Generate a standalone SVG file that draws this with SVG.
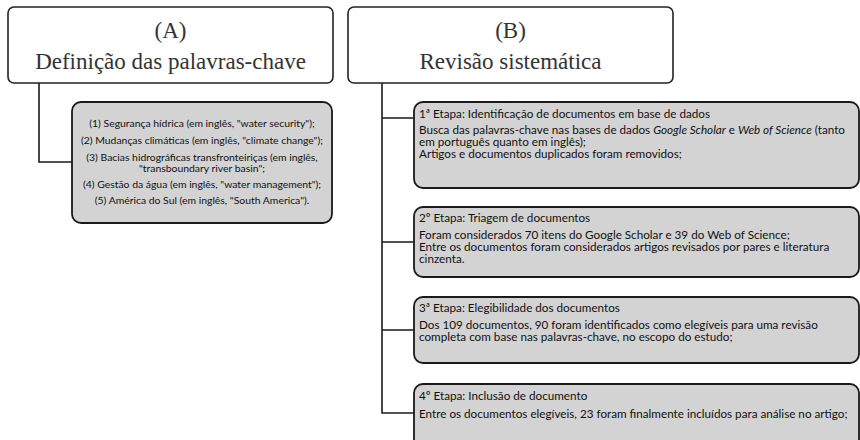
<svg xmlns="http://www.w3.org/2000/svg" width="860" height="440" viewBox="0 0 860 440">
<style>
.head{fill:#fff;stroke:#222;stroke-width:1.6}
.box{fill:#d3d3d3;stroke:#1a1a1a;stroke-width:1.8}
.conn{fill:none;stroke:#1a1a1a;stroke-width:1.6}
.ttl{font-family:"Liberation Serif",serif;font-size:23px;fill:#333;text-anchor:middle}
.a{font-family:Lato,"Liberation Sans",sans-serif;font-size:10.4px;fill:#111;text-anchor:middle}
.b{font-family:Lato,"Liberation Sans",sans-serif;font-size:11.7px;fill:#111}
</style>
<rect width="860" height="440" fill="#fff"/>
<g id="connectors">
<path class="conn" d="M39 83 V162 H72"/>
<path class="conn" d="M382 83 V413 H414 M382 118 H414 M382 242 H414 M382 330 H414"/>
</g>
<g id="nodeA">
<rect class="head" x="8" y="7" width="325" height="76" rx="6"/>
<text class="ttl" x="170.5" y="38">(A)</text>
<text class="ttl" x="170.5" y="69">Definição das palavras-chave</text>
</g>
<g id="nodeB">
<rect class="head" x="348" y="7" width="325" height="76" rx="6"/>
<text class="ttl" x="510.5" y="38">(B)</text>
<text class="ttl" x="510.5" y="69">Revisão sistemática</text>
</g>
<g id="keywords">
<rect class="box" x="72" y="102" width="260" height="121" rx="9"/>
<text class="a" x="202" y="127">(1) Segurança hídrica (em inglês, "water security");</text>
<text class="a" x="202" y="144">(2) Mudanças climáticas (em inglês, "climate change");</text>
<text class="a" x="202" y="161">(3) Bacias hidrográficas transfronteiriças (em inglês,</text>
<text class="a" x="202" y="172">"transboundary river basin";</text>
<text class="a" x="202" y="188">(4) Gestão da água (em inglês, "water management");</text>
<text class="a" x="202" y="204">(5) América do Sul (em inglês, "South America").</text>
</g>
<g id="etapa1">
<rect class="box" x="414" y="102" width="445" height="86" rx="9"/>
<text class="b" x="419" y="118">1ª Etapa: Identificação de documentos em base de dados</text>
<text class="b" x="419" y="134">Busca das palavras-chave nas bases de dados <tspan font-style="italic">Google Scholar</tspan> e <tspan font-style="italic">Web of Science</tspan> (tanto</text>
<text class="b" x="419" y="146">em português quanto em inglês);</text>
<text class="b" x="419" y="158">Artigos e documentos duplicados foram removidos;</text>
</g>
<g id="etapa2">
<rect class="box" x="414" y="207" width="445" height="70" rx="9"/>
<text class="b" x="419" y="222">2º Etapa: Triagem de documentos</text>
<text class="b" x="419" y="239">Foram considerados 70 itens do Google Scholar e 39 do Web of Science;</text>
<text class="b" x="419" y="251">Entre os documentos foram considerados artigos revisados por pares e literatura</text>
<text class="b" x="419" y="263">cinzenta.</text>
</g>
<g id="etapa3">
<rect class="box" x="414" y="297" width="445" height="66" rx="9"/>
<text class="b" x="419" y="312">3ª Etapa: Elegibilidade dos documentos</text>
<text class="b" x="419" y="329">Dos 109 documentos, 90 foram identificados como elegíveis para uma revisão</text>
<text class="b" x="419" y="341">completa com base nas palavras-chave, no escopo do estudo;</text>
</g>
<g id="etapa4">
<rect class="box" x="414" y="384" width="445" height="70" rx="9"/>
<text class="b" x="419" y="400">4º Etapa: Inclusão de documento</text>
<text class="b" x="419" y="418">Entre os documentos elegíveis, 23 foram finalmente incluídos para análise no artigo;</text>
</g>
</svg>
